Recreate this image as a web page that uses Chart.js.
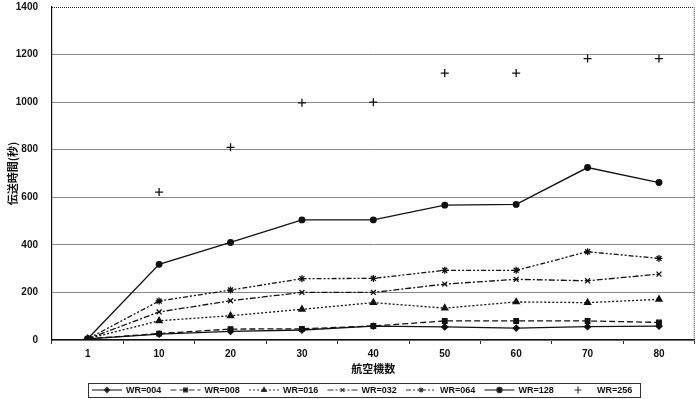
<!DOCTYPE html>
<html>
<head>
<meta charset="utf-8">
<script src="https://cdn.jsdelivr.net/npm/chart.js@4.4.1/dist/chart.umd.min.js"></script>
<style>
  html, body { margin: 0; padding: 0; background: #fff; }
  #wrap { width: 700px; height: 399px; }
</style>
</head>
<body>
<div id="wrap"><canvas id="chart" width="700" height="399"></canvas></div>
<script>
// 航空機数 (x カテゴリ)
const aircraft = ['1', '10', '20', '30', '40', '50', '60', '70', '80'];
const yTicks = [0, 200, 400, 600, 800, 1000, 1200, 1400];

// 伝送時間(秒)
const wr004 = [5, 25, 36, 42, 58, 55, 50, 56, 58];
const wr008 = [5, 27, 46, 47, 59, 80, 80, 80, 74];
const wr016 = [5, 81, 102, 129, 157, 134, 160, 157, 171];
const wr032 = [5, 118, 165, 200, 200, 235, 255, 249, 277];
const wr064 = [5, 164, 210, 258, 259, 293, 293, 371, 343];
const wr128 = [5, 318, 410, 505, 505, 567, 570, 725, 662];
const wr256 = [5, 622, 810, 997, 1000, 1122, 1122, 1183, 1183];

const INK = '#111';

function series(label, data, dash, style, radius, showLine) {
    return {
        label: label,
        data: data,
        borderColor: INK,
        backgroundColor: INK,
        borderWidth: 1.3,
        borderDash: dash,
        pointStyle: style,
        pointRadius: radius,
        pointBorderWidth: 1.3,
        pointBackgroundColor: INK,
        pointBorderColor: INK,
        showLine: showLine,
        tension: 0
    };
}

// 枠線 (上・右は点線)
const frame = {
    id: 'frame',
    afterDatasetsDraw(chart) {
        const a = chart.chartArea, ctx = chart.ctx;
        ctx.save();
        ctx.strokeStyle = '#222';
        ctx.lineWidth = 1;
        ctx.setLineDash([1, 1]);
        ctx.beginPath();
        ctx.moveTo(a.left, a.top + 0.5);
        ctx.lineTo(a.right - 0.5, a.top + 0.5);
        ctx.lineTo(a.right - 0.5, a.bottom);
        ctx.stroke();
        ctx.restore();
    }
};

// 凡例 (線種 + マーカー)
const legendBox = {
    id: 'legendBox',
    afterDraw(chart) {
        const ctx = chart.ctx;
        const left = 88, right = 640, top = 383, bottom = 397;
        const cy = (top + bottom) / 2;
        ctx.save();
        ctx.strokeStyle = '#333';
        ctx.lineWidth = 1;
        ctx.setLineDash([]);
        ctx.strokeRect(left + 0.5, top + 0.5, right - left, bottom - top);
        ctx.font = 'bold 9px "Liberation Sans", Arial, sans-serif';
        ctx.textBaseline = 'middle';
        ctx.fillStyle = INK;
        chart.data.datasets.forEach((ds, i) => {
            const x0 = 92 + i * 78.5;
            const len = 30;
            if (ds.showLine !== false) {
                ctx.setLineDash(ds.borderDash || []);
                ctx.lineWidth = 1.2;
                ctx.beginPath();
                ctx.moveTo(x0, cy);
                ctx.lineTo(x0 + len, cy);
                ctx.stroke();
            }
            ctx.setLineDash([]);
            Chart.helpers.drawPoint(ctx, {
                pointStyle: ds.pointStyle,
                radius: ds.showLine === false ? 3.5 : 2.6,
                rotation: 0,
                borderWidth: 1.2
            }, x0 + len / 2, cy);
            ctx.fillText(ds.label, x0 + len + 4, cy + 0.5);
        });
        ctx.restore();
    }
};

new Chart(document.getElementById('chart').getContext('2d'), {
    type: 'line',
    data: {
        labels: aircraft,
        datasets: [
            series('WR=004', wr004, [], 'rectRot', 3, true),
            series('WR=008', wr008, [6, 3], 'rect', 3.2, true),
            series('WR=016', wr016, [2, 2], 'triangle', 3.5, true),
            series('WR=032', wr032, [6, 2, 2, 2], 'crossRot', 3.5, true),
            series('WR=064', wr064, [5, 2, 2, 2, 2, 2], 'star', 3.5, true),
            series('WR=128', wr128, [], 'circle', 2.8, true),
            series('WR=256', wr256, [], 'cross', 4, false)
        ]
    },
    options: {
        responsive: false,
        animation: false,
        layout: { padding: { left: 0, right: 5, top: 7, bottom: 24 } },
        plugins: {
            legend: { display: false },
            tooltip: { enabled: false }
        },
        scales: {
            x: {
                offset: true,
                border: { display: true, color: '#111', width: 1.2 },
                grid: {
                    offset: true,
                    drawOnChartArea: false,
                    drawTicks: true,
                    tickLength: 4,
                    color: '#333'
                },
                ticks: {
                    color: INK,
                    padding: 4,
                    maxRotation: 0,
                    font: { family: '"Liberation Sans", Arial, sans-serif', size: 10, weight: 'bold' }
                },
                title: {
                    display: true,
                    text: '航空機数',
                    color: INK,
                    padding: { top: 0, bottom: 0 },
                    font: { family: '"Noto Sans CJK JP", sans-serif', size: 11, weight: 'bold' }
                },
                afterFit(axis) { axis.height = 35; }
            },
            y: {
                min: 0,
                max: 1400,
                afterBuildTicks(axis) { axis.ticks = yTicks.map(v => ({ value: v })); },
                border: { display: true, color: '#111', width: 1.2 },
                grid: {
                    drawTicks: false,
                    lineWidth: 1,
                    color: ctx => (ctx.tick && ctx.tick.value === 1400) ? 'rgba(0,0,0,0)' : '#8a8a8a'
                },
                ticks: {
                    color: INK,
                    padding: 14,
                    callback: v => String(v),
                    font: { family: '"Liberation Sans", Arial, sans-serif', size: 10, weight: 'bold' }
                },
                title: {
                    display: true,
                    text: '伝送時間(秒)',
                    color: INK,
                    padding: { top: 6, bottom: 0 },
                    font: { family: '"Noto Sans CJK JP", sans-serif', size: 11, weight: 'bold' }
                },
                afterFit(axis) {
                    axis.width = 52;
                    axis.paddingTop = 0;
                    axis.paddingBottom = 0;
                }
            }
        }
    },
    plugins: [frame, legendBox]
});
</script>
</body>
</html>
